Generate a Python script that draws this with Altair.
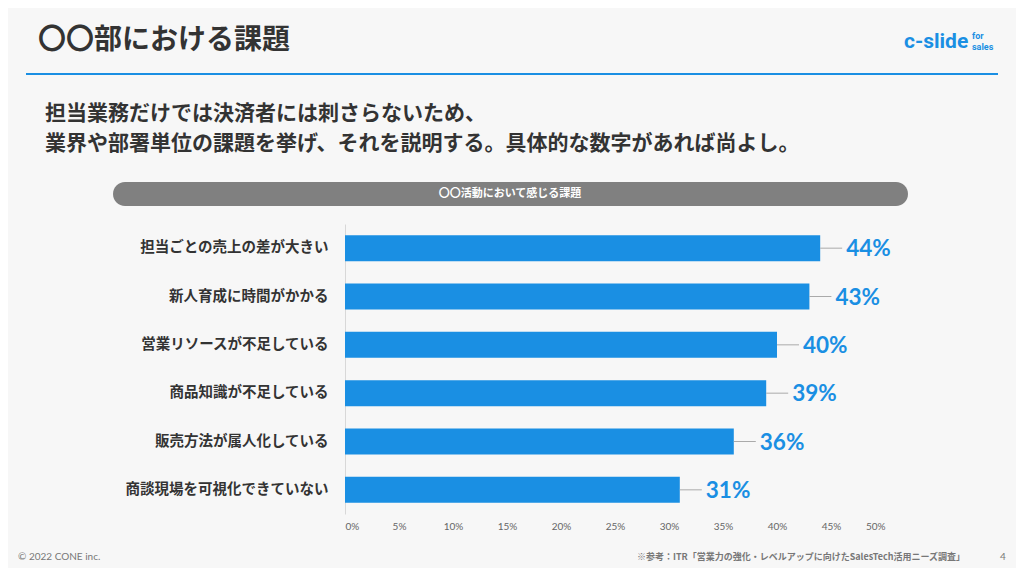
import altair as alt
import pandas as pd

categories = ["担当ごとの売上の差が大きい", "新人育成に時間がかかる", "営業リソースが不足している",
              "商品知識が不足している", "販売方法が属人化している", "商談現場を可視化できていない"]
values = [44, 43, 40, 39, 36, 31]
x_ticks = [0, 5, 10, 15, 20, 25, 30, 35, 40, 45, 50]

title_text = "〇〇部における課題"
subtitle_lines = ["担当業務だけでは決済者には刺さらないため、",
                  "業界や部署単位の課題を挙げ、それを説明する。具体的な数字があれば尚よし。"]
panel_title = "〇〇活動において感じる課題"
footer_left = "© 2022 CONE inc."
footer_source = "※参考：ITR「営業力の強化・レベルアップに向けたSalesTech活用ニーズ調査」"
page_no = "4"

df = pd.DataFrame({"cat": categories, "val": values,
                   "label": [f"{v}%" for v in values]})

JP = "Noto Sans CJK JP"
BLUE = "#1a8fe3"

x_enc = alt.X("val:Q", scale=alt.Scale(domain=[0, 50]),
              axis=alt.Axis(values=x_ticks, labelExpr="datum.value + '%'", title=None,
                            ticks=False, domain=False, grid=False, labelPadding=7,
                            labelFontSize=10, labelColor="#666", labelFont="Lato"))
y_enc = alt.Y("cat:N", sort=categories,
              axis=alt.Axis(title=None, ticks=False, domain=True, domainColor="#d8d8d8",
                            labelPadding=17, labelFontSize=14.5, labelFontWeight="bold",
                            labelColor="#333", labelFont=JP, labelLimit=300))

base = alt.Chart(df)
bars = base.mark_bar(color=BLUE, size=26).encode(x=x_enc, y=y_enc)
leader = base.mark_rule(color="#aaa", strokeWidth=1, x2Offset=22).encode(
    x="val:Q", x2="val:Q", y=alt.Y("cat:N", sort=categories))
labels = base.mark_text(align="left", baseline="middle", dx=26, dy=1, fontSize=22.5,
                        fontWeight="bold", color=BLUE, font="Lato").encode(
    x="val:Q", y=alt.Y("cat:N", sort=categories), text="label:N")

one = alt.Data(values=[{"a": 1}])


def txt(s, x, y, size, color, weight="bold", align="left", font=JP):
    return alt.Chart(one).mark_text(text=s, align=align, baseline="middle", fontSize=size,
                                    fontWeight=weight, color=color, font=font).encode(
        x=alt.value(x), y=alt.value(y))


deco = [
    txt(title_text, -307, -183, 28, "#333"),
    txt("c-slide", 559, -182, 21, BLUE, font="Roboto"),
    txt("for", 627, -188, 9, BLUE, font="Roboto"),
    txt("sales", 627, -177, 9, BLUE, font="Roboto"),
    alt.Chart(one).mark_rule(color=BLUE, strokeWidth=2).encode(
        x=alt.value(-319), x2=alt.value(653), y=alt.value(-150)),
    txt(subtitle_lines[0], -300, -110, 21, "#333"),
    txt(subtitle_lines[1], -300, -80, 21, "#333"),
    alt.Chart(one).mark_rect(color="#808080", cornerRadius=12).encode(
        x=alt.value(-232), x2=alt.value(563), y=alt.value(-42), y2=alt.value(-18)),
    txt(panel_title, 165, -30, 11, "white", align="center"),
    txt(footer_left, -327, 333, 10, "#777", weight="normal", font="Lato"),
    txt(footer_source, 620, 333, 9, "#777", align="right"),
    txt(page_no, 655, 333, 10, "#777", weight="normal", font="Lato"),
]

chart = alt.layer(bars, leader, labels, *deco).properties(
    width=540, height=290,
    autosize=alt.AutoSizeParams(type="none"),
    padding={"left": 337, "top": 216, "right": 131, "bottom": 54},
    background="#f7f7f7",
).configure_view(stroke=None)

chart.save("out.html", embed_options={"renderer": "svg", "actions": False})
